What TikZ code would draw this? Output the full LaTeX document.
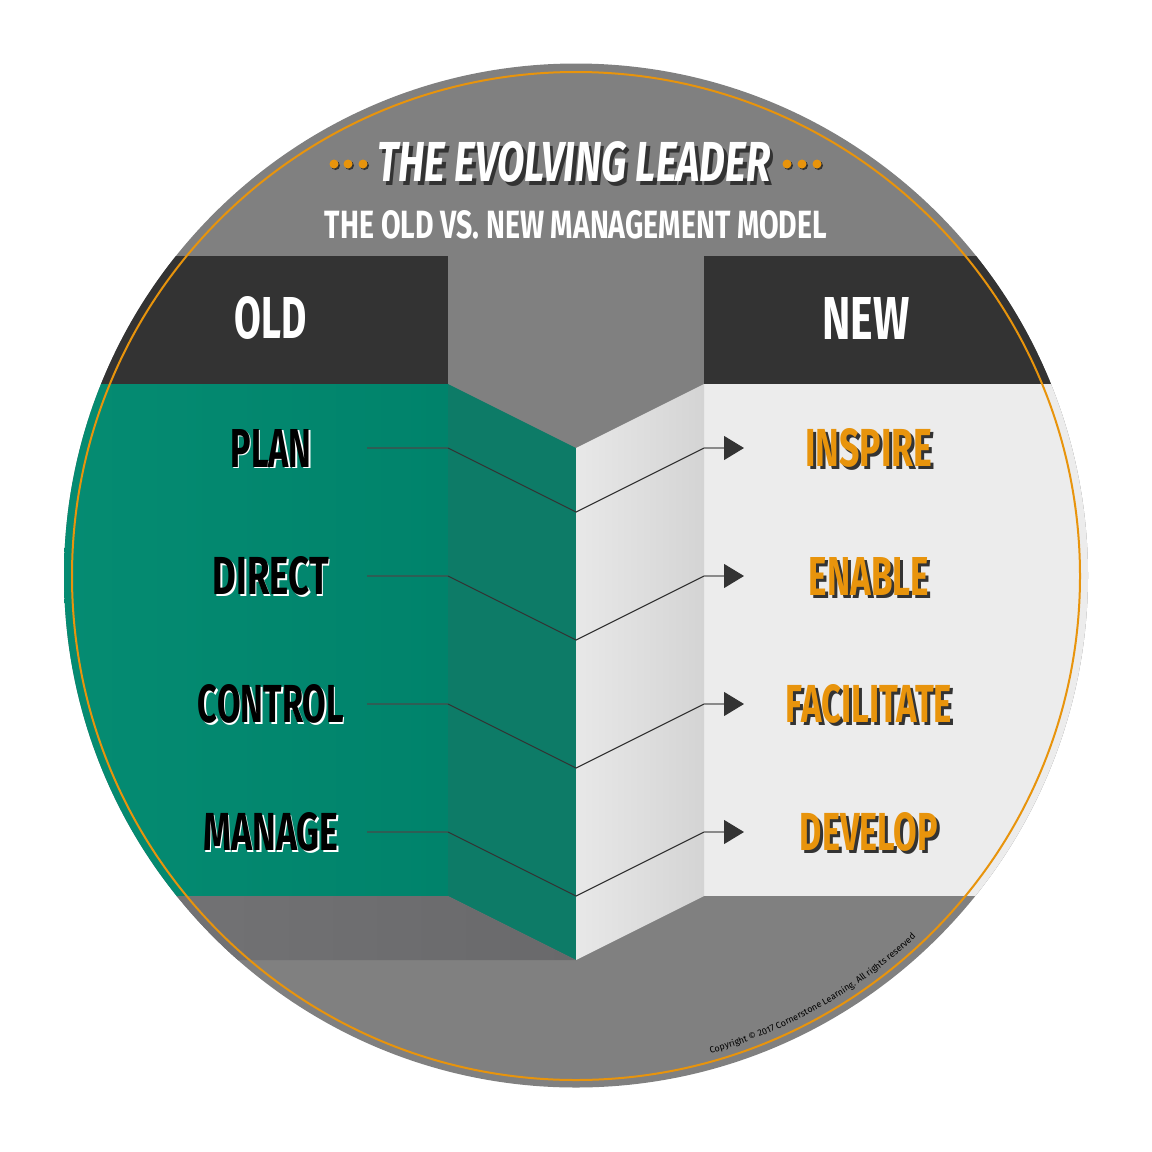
\documentclass[tikz,border=0pt]{standalone}
\usepackage{graphicx}
\usepackage{fontspec}
\setmainfont{Fira Sans}
\usetikzlibrary{arrows.meta,decorations.text}
\definecolor{disc}{HTML}{808080}
\definecolor{hdr}{HTML}{333333}
\definecolor{grnL}{HTML}{068D73}
\definecolor{grnR}{HTML}{00836B}
\definecolor{grnS}{HTML}{0D7B67}
\definecolor{shL}{HTML}{767678}
\definecolor{shR}{HTML}{69696B}
\definecolor{lite}{HTML}{ECECEC}
\definecolor{faceL}{HTML}{E8E8E8}
\definecolor{faceR}{HTML}{D4D4D4}
\definecolor{orng}{HTML}{E8940C}
\definecolor{lineG}{HTML}{2E5E55}
\definecolor{lineL}{HTML}{8A8A8A}
\newcommand\fitbox[3]{\resizebox{#1pt}{#2pt}{#3}}
\begin{document}
\begin{tikzpicture}[x=1pt,y=-1pt,
  txt/.style={inner sep=0pt,outer sep=0pt,font=\bfseries},
  conn/.style={draw=hdr,line width=1.1pt},
  connL/.style={draw=lineG,line width=1.1pt},
  connR/.style={draw=lineL,line width=1.1pt,-{Triangle[length=20pt,width=24pt,color=hdr]}},
  dot/.style={fill=orng},
  dotsh/.style={fill=hdr}]
\useasboundingbox (0,0) rectangle (1152,1152);
\coordinate (ctr) at (576,576);
% disc
\fill[disc] (576,575.5) circle[radius=512];
\begin{scope}
  \clip (576,575.5) circle[radius=512];
  % left block
  \fill[hdr] (0,256) rectangle (448,384);
  \shade[left color=grnL,right color=grnR] (0,384) rectangle (448,896);
  \fill[grnS] (448,384) -- (576,448) -- (576,960) -- (448,896) -- cycle;
  \shade[left color=shL,right color=shR] (0,896) -- (448,896) -- (576,960) -- (0,960) -- cycle;
  % right block
  \fill[hdr] (704,256) rectangle (1152,384);
  \fill[lite] (704,384) rectangle (1152,896);
  \shade[left color=faceL,right color=faceR] (576,448) -- (704,384) -- (704,896) -- (576,960) -- cycle;
\end{scope}
% orange ring
\draw[orng,line width=2pt] (576,576) circle[radius=504];
% title
\node[txt,text=hdr] at (577.5,165.5) {\fitbox{393}{40}{\itshape THE EVOLVING LEADER}};
\node[txt,text=white] (title) at (574,162) {\fitbox{393}{40}{\itshape THE EVOLVING LEADER}};
\foreach \dx in {334,348,363,787,802,817}{
  \fill[dotsh] (\dx+1.5,165.5) circle[radius=4.5];
  \fill[dot] (\dx,164) circle[radius=4.5];
}
\node[txt,text=white] (sub) at (576,225) {\fitbox{502}{28}{THE OLD VS. NEW MANAGEMENT MODEL}};
% headers
\node[txt,text=white] (old) at (271,318) {\fitbox{72}{42}{OLD}};
\node[txt,text=white] (new) at (866,318) {\fitbox{87}{42}{NEW}};
% rows
\foreach \y/\l/\lw/\r/\rw/\n in {448/PLAN/81/INSPIRE/127/1,576/DIRECT/116/ENABLE/120/2,704/CONTROL/146/FACILITATE/166/3,832/MANAGE/135/DEVELOP/138/4}{
  \node[txt,text=white] at (272.5,\y+1.5) {\fitbox{\lw}{38}{\l}};
  \node[txt,text=black] (l\n) at (271,\y) {\fitbox{\lw}{38}{\l}};
  \node[txt,text=hdr] at (872,\y+3) {\fitbox{\rw}{38}{\r}};
  \node[txt,text=orng] (r\n) at (869,\y) {\fitbox{\rw}{38}{\r}};
  \coordinate (a\n) at (367,\y);
  \coordinate (b\n) at (448,\y);
  \coordinate (c\n) at (576,\y+64);
  \coordinate (d\n) at (704,\y);
  \coordinate (e\n) at (744,\y);
  \draw[connL] (a\n) -- (b\n);
  \draw[conn] (b\n) -- (c\n) -- (d\n);
  \draw[connR] (d\n) -- (e\n);
}
% copyright
\path[decorate,decoration={text along path,text align=center,
  text={|\fontsize{9}{11}\selectfont|Copyright © 2017 Cornerstone Learning. All rights reserved}}]
  (ctr) ++(75:496) arc[start angle=75,end angle=46,radius=496];
\end{tikzpicture}
\end{document}
